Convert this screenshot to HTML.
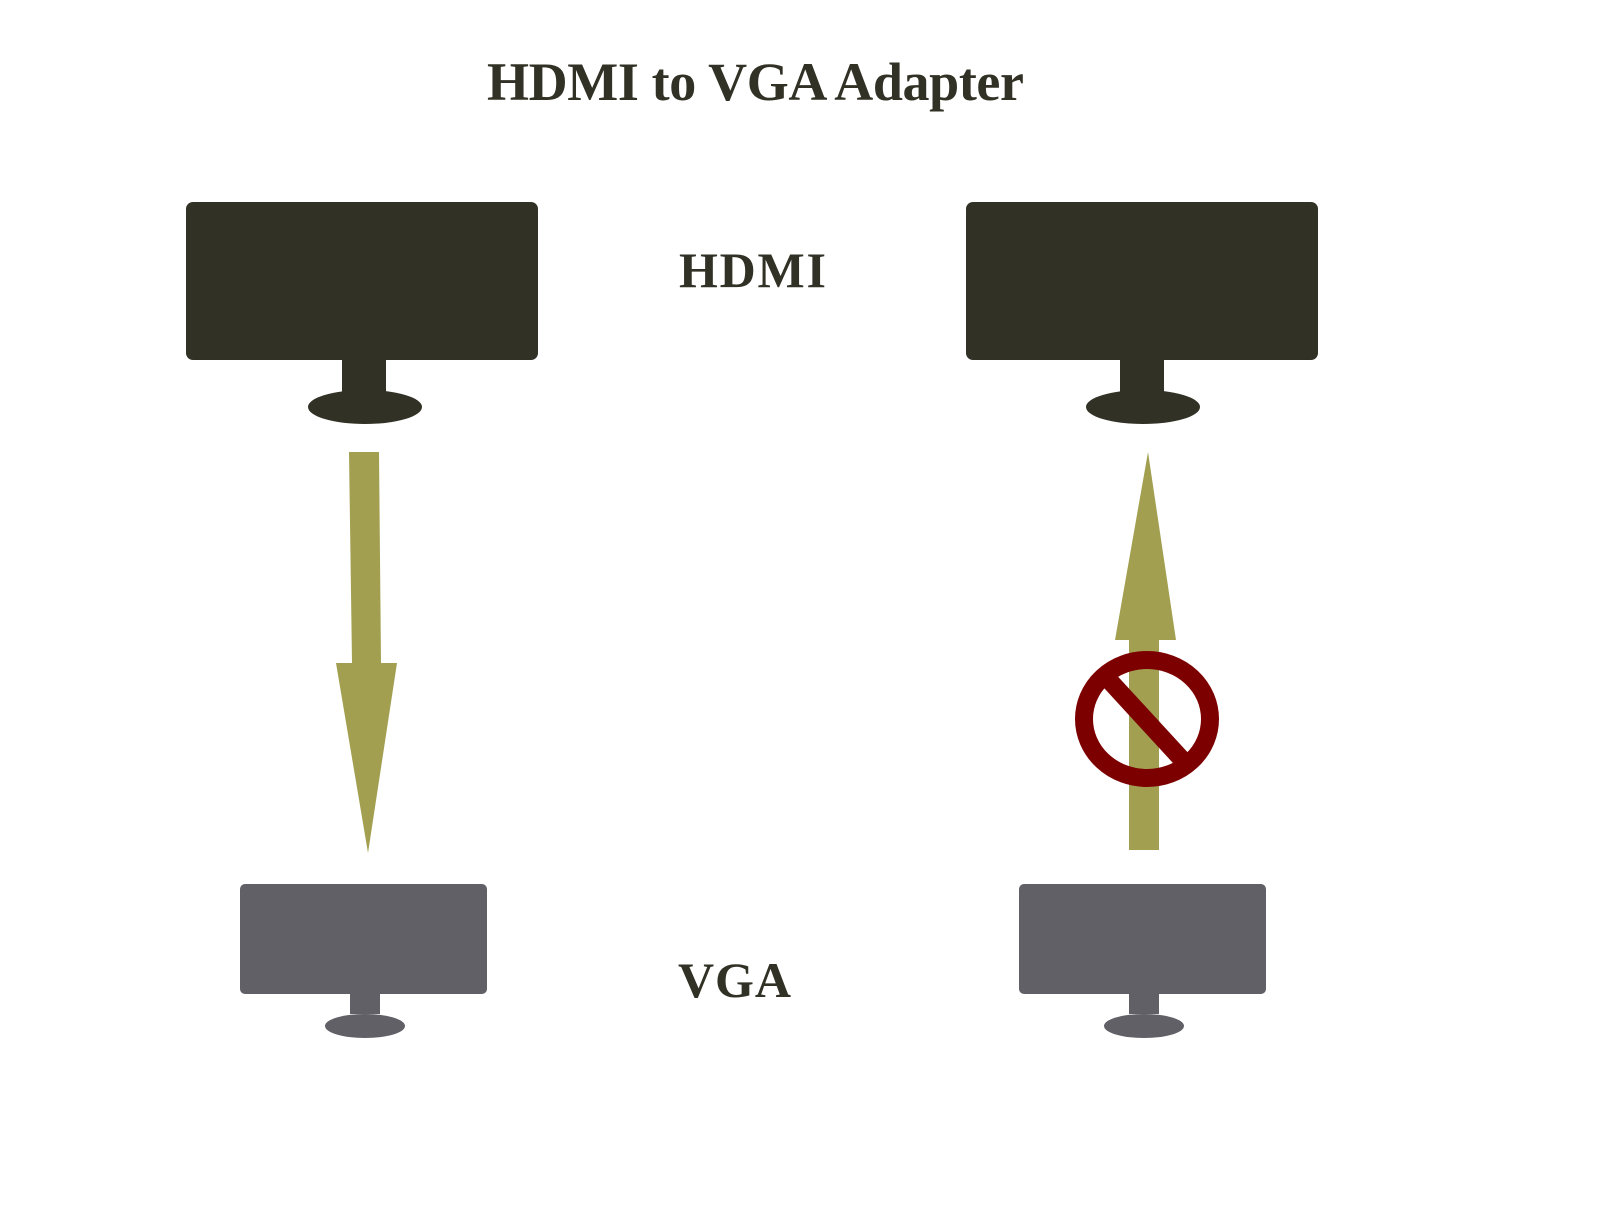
<!DOCTYPE html>
<html><head><style>body{margin:0;background:#fff}svg{display:block}</style></head>
<body>
<svg width="1600" height="1230" viewBox="0 0 1600 1230" xmlns="http://www.w3.org/2000/svg">
<g font-family="Liberation Serif, serif" font-weight="bold" fill="#313125">
<text x="487" y="100" font-size="54" textLength="537" lengthAdjust="spacing">HDMI to VGA Adapter</text>
<text x="679" y="287" font-size="50" textLength="147" lengthAdjust="spacing">HDMI</text>
<text x="678" y="997" font-size="50" textLength="113" lengthAdjust="spacing">VGA</text>
</g>
<g fill="#313125">
<rect x="186" y="202" width="352" height="158" rx="7"/>
<rect x="342" y="355" width="44" height="38"/>
<ellipse cx="365" cy="407" rx="57" ry="17"/>
<rect x="966" y="202" width="352" height="158" rx="7"/>
<rect x="1120" y="355" width="44" height="38"/>
<ellipse cx="1143" cy="407" rx="57" ry="17"/>
</g>
<g fill="#606066">
<rect x="240" y="884" width="247" height="110" rx="5"/>
<rect x="350" y="990" width="30" height="24"/>
<ellipse cx="365" cy="1026" rx="40" ry="12"/>
<rect x="1019" y="884" width="247" height="110" rx="5"/>
<rect x="1129" y="990" width="30" height="24"/>
<ellipse cx="1144" cy="1026" rx="40" ry="12"/>
</g>
<g fill="#a2a050">
<polygon points="349,452 379,452 381,663 397,663 368,853 336,663 352,663"/>
<polygon points="1129,850 1159,850 1159,640 1176,640 1148,452 1115,640 1129,640"/>
</g>
<ellipse cx="1147" cy="719" rx="63" ry="59" fill="none" stroke="#7d0000" stroke-width="18"/>
<line x1="1103" y1="685" x2="1187" y2="754" stroke="#7d0000" stroke-width="18" transform="rotate(8 1147 719)"/>
</svg>
</body></html>
